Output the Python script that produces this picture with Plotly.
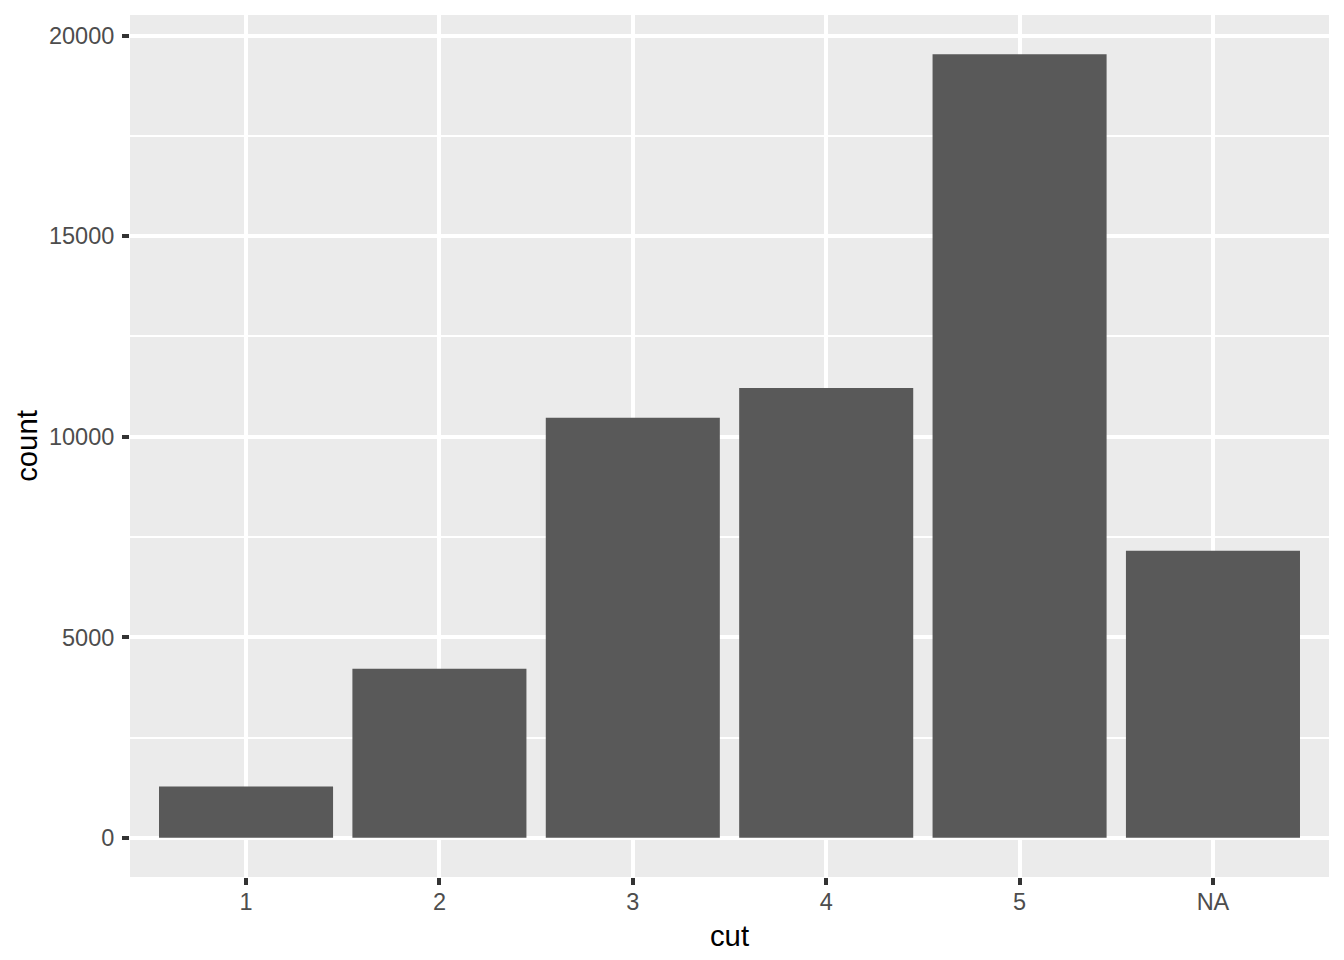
import plotly.graph_objects as go

categories = ["1", "2", "3", "4", "5", "NA"]
counts = [1278, 4218, 10471, 11218, 19539, 7157]
y_ticks = [0, 5000, 10000, 15000, 20000]
y_tick_labels = ["0", "5000", "10000", "15000", "20000"]

FONT = "Liberation Sans, Arial, Helvetica, sans-serif"

fig = go.Figure(
    go.Bar(
        x=categories,
        y=counts,
        width=0.9,
        marker=dict(color="#595959", line=dict(width=0)),
        hoverinfo="x+y",
    )
)

ymax = max(counts)
fig.update_layout(
    width=1344,
    height=960,
    margin=dict(l=130, r=15, t=15, b=83, autoexpand=False),
    paper_bgcolor="white",
    plot_bgcolor="#EBEBEB",
    showlegend=False,
    font=dict(family=FONT, color="black"),
    xaxis=dict(
        type="category",
        categoryorder="array",
        categoryarray=categories,
        range=[-0.6, 5.6],
        showgrid=True,
        gridcolor="white",
        gridwidth=3.5,
        zeroline=False,
        ticks="outside",
        ticklen=7,
        tickwidth=3.5,
        tickcolor="#333333",
        tickfont=dict(family=FONT, size=23.5, color="#4D4D4D"),
        ticklabelstandoff=-3,
        title=dict(text="cut", font=dict(family=FONT, size=29.3, color="black"), standoff=11),
        showline=False,
        automargin=False,
    ),
    yaxis=dict(
        range=[-0.05 * ymax, 1.05 * ymax],
        tickmode="array",
        tickvals=y_ticks,
        ticktext=y_tick_labels,
        showgrid=True,
        gridcolor="white",
        gridwidth=3.5,
        zeroline=False,
        ticks="outside",
        ticklen=7,
        tickwidth=3.5,
        tickcolor="#333333",
        tickfont=dict(family=FONT, size=23.5, color="#4D4D4D"),
        ticklabelstandoff=3,
        minor=dict(tick0=2500, dtick=5000, showgrid=True, gridcolor="white", gridwidth=1.8, ticks=""),
        title=dict(text="count", font=dict(family=FONT, size=29.3, color="black"), standoff=2),
        showline=False,
        automargin=False,
    ),
)

fig.write_html(
    "out.html",
    config={"displayModeBar": False},
    post_script="document.body.style.margin='0';document.body.style.overflow='hidden';",
)
